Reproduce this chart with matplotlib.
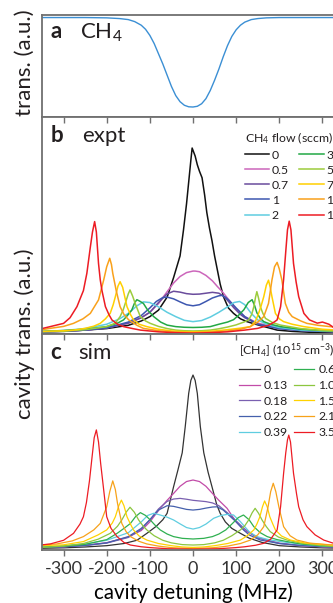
import matplotlib
matplotlib.use('Agg')
import matplotlib.pyplot as plt

plt.rcParams['font.family'] = ['Lato', 'DejaVu Sans']
plt.rcParams['mathtext.fontset'] = 'custom'
plt.rcParams['mathtext.rm'] = 'Lato'
plt.rcParams['mathtext.it'] = 'Lato:italic'
plt.rcParams['text.color'] = '#231f20'

# panel a: CH4 absorption (transmission)
abs_x = [-350, -250, -200, -170, -150, -135, -120, -110, -100, -90, -80, -70, -60, -50, -40, -30, -20, -10, 0, 10, 20, 30, 40, 50, 60, 70, 80, 90, 100, 110, 120, 135, 150, 170, 200, 250, 350]
abs_y = [0.975, 0.975, 0.972, 0.965, 0.955, 0.935, 0.90, 0.86, 0.80, 0.72, 0.62, 0.52, 0.41, 0.30, 0.21, 0.15, 0.115, 0.10, 0.098, 0.105, 0.13, 0.18, 0.26, 0.36, 0.47, 0.59, 0.70, 0.79, 0.855, 0.90, 0.93, 0.955, 0.965, 0.972, 0.975, 0.975, 0.975]

# panel b: experiment, CH4 flow (sccm)
flow_labels = ['0', '0.5', '0.7', '1', '2', '3', '5', '7', '10', '15']

expt_0_x = [-350, -300, -250, -200, -150, -120, -100, -80, -60, -45, -30, -22, -15, -10, -5, -2, 5, 10, 15, 21, 27, 32, 38, 44, 50, 56, 63, 71, 82, 94, 110, 125, 145, 165, 195, 230, 270, 350]
expt_0_y = [0.01, 0.012, 0.018, 0.025, 0.04, 0.06, 0.08, 0.11, 0.17, 0.26, 0.36, 0.48, 0.60, 0.70, 0.80, 0.857, 0.82, 0.78, 0.75, 0.72, 0.64, 0.56, 0.49, 0.43, 0.36, 0.30, 0.23, 0.17, 0.12, 0.095, 0.07, 0.057, 0.045, 0.034, 0.018, 0.012, 0.008, 0.005]
expt_05_x = [-350, -300, -250, -200, -150, -120, -100, -80, -60, -45, -30, -15, 0, 5, 15, 30, 45, 56, 70, 80, 100, 120, 150, 200, 250, 300, 350]
expt_05_y = [0.01, 0.013, 0.018, 0.028, 0.05, 0.075, 0.10, 0.14, 0.195, 0.235, 0.265, 0.283, 0.29, 0.29, 0.287, 0.27, 0.245, 0.22, 0.19, 0.165, 0.115, 0.08, 0.05, 0.028, 0.018, 0.013, 0.01]
expt_07_x = [-350, -300, -250, -200, -150, -120, -100, -80, -60, -45, -30, -15, 0, 15, 30, 45, 60, 70, 80, 95, 110, 120, 150, 200, 250, 300, 350]
expt_07_y = [0.01, 0.013, 0.018, 0.028, 0.05, 0.075, 0.10, 0.145, 0.185, 0.197, 0.193, 0.186, 0.183, 0.184, 0.188, 0.192, 0.188, 0.175, 0.155, 0.12, 0.09, 0.075, 0.045, 0.025, 0.016, 0.012, 0.01]
expt_1_x = [-350, -300, -250, -200, -150, -120, -100, -85, -70, -60, -45, -30, -15, 0, 15, 30, 45, 60, 67, 75, 85, 100, 120, 150, 200, 250, 300, 350]
expt_1_y = [0.01, 0.013, 0.018, 0.028, 0.055, 0.085, 0.12, 0.15, 0.168, 0.17, 0.162, 0.148, 0.135, 0.13, 0.135, 0.15, 0.166, 0.176, 0.178, 0.17, 0.152, 0.12, 0.08, 0.045, 0.025, 0.016, 0.012, 0.01]
expt_2_x = [-350, -300, -250, -200, -170, -150, -130, -115, -100, -80, -60, -40, -20, 0, 20, 40, 60, 80, 95, 108, 120, 135, 150, 170, 200, 250, 300, 350]
expt_2_y = [0.012, 0.016, 0.025, 0.045, 0.07, 0.095, 0.13, 0.148, 0.145, 0.125, 0.10, 0.08, 0.063, 0.057, 0.062, 0.078, 0.10, 0.125, 0.145, 0.15, 0.135, 0.095, 0.065, 0.045, 0.03, 0.018, 0.014, 0.01]
expt_3_x = [-350, -300, -250, -200, -175, -161, -150, -142, -135, -130, -124, -115, -105, -91, -75, -60, -40, -20, 0, 20, 40, 60, 80, 94, 105, 118, 128, 137, 143, 148, 156, 164, 180, 203, 250, 300, 350]
expt_3_y = [0.012, 0.016, 0.022, 0.034, 0.05, 0.065, 0.09, 0.11, 0.145, 0.158, 0.152, 0.141, 0.11, 0.08, 0.055, 0.041, 0.034, 0.031, 0.03, 0.031, 0.034, 0.045, 0.055, 0.066, 0.085, 0.112, 0.145, 0.158, 0.13, 0.098, 0.072, 0.057, 0.045, 0.034, 0.022, 0.016, 0.012]
expt_5_x = [-350, -300, -250, -200, -180, -169, -162, -157, -150, -146, -140, -134, -128, -122, -110, -99, -80, -60, -40, -20, 0, 20, 40, 60, 80, 100, 118, 129, 136, 141, 145, 148, 152, 156, 162, 168, 185, 203, 250, 300, 350]
expt_5_y = [0.01, 0.013, 0.02, 0.034, 0.05, 0.08, 0.11, 0.141, 0.185, 0.203, 0.175, 0.141, 0.11, 0.08, 0.06, 0.049, 0.035, 0.025, 0.018, 0.015, 0.014, 0.015, 0.018, 0.024, 0.032, 0.042, 0.055, 0.065, 0.09, 0.126, 0.17, 0.195, 0.165, 0.126, 0.095, 0.072, 0.052, 0.041, 0.025, 0.016, 0.012]
expt_7_x = [-350, -300, -277, -250, -230, -215, -203, -192, -185, -180, -174, -169, -163, -158, -153, -145, -138, -125, -107, -80, -50, -20, 0, 20, 50, 80, 110, 133, 145, 152, 158, 164, 170, 175, 179, 183, 191, 200, 210, 230, 257, 300, 350]
expt_7_y = [0.012, 0.015, 0.018, 0.026, 0.036, 0.049, 0.07, 0.095, 0.135, 0.172, 0.22, 0.241, 0.215, 0.17, 0.126, 0.09, 0.065, 0.045, 0.034, 0.022, 0.014, 0.011, 0.01, 0.011, 0.014, 0.02, 0.027, 0.034, 0.06, 0.095, 0.13, 0.172, 0.225, 0.248, 0.215, 0.172, 0.095, 0.07, 0.057, 0.045, 0.034, 0.022, 0.016]
expt_10_x = [-350, -331, -300, -277, -255, -238, -219, -207, -200, -193, -189, -186, -178, -169, -160, -149, -130, -115, -80, -40, 0, 40, 80, 110, 133, 150, 164, 175, 183, 189, 195, 200, 206, 214, 222, 230, 250, 264, 290, 318, 350]
expt_10_y = [0.02, 0.026, 0.035, 0.049, 0.07, 0.095, 0.157, 0.249, 0.31, 0.349, 0.32, 0.28, 0.2, 0.126, 0.09, 0.065, 0.04, 0.026, 0.015, 0.009, 0.006, 0.009, 0.014, 0.022, 0.034, 0.055, 0.08, 0.141, 0.249, 0.31, 0.33, 0.3, 0.249, 0.141, 0.1, 0.08, 0.06, 0.049, 0.04, 0.034, 0.028]
expt_15_x = [-350, -331, -300, -285, -269, -254, -246, -238, -233, -228, -224, -219, -215, -211, -203, -195, -188, -175, -161, -140, -122, -80, -40, 0, 40, 80, 120, 150, 175, 188, 195, 203, 210, 215, 219, 223, 227, 233, 239, 245, 257, 270, 288, 300, 315, 326, 350]
expt_15_y = [0.025, 0.034, 0.049, 0.075, 0.126, 0.2, 0.28, 0.40, 0.47, 0.518, 0.47, 0.325, 0.25, 0.2, 0.126, 0.09, 0.065, 0.045, 0.034, 0.025, 0.018, 0.01, 0.006, 0.004, 0.006, 0.01, 0.018, 0.026, 0.04, 0.055, 0.065, 0.126, 0.25, 0.38, 0.48, 0.52, 0.48, 0.325, 0.24, 0.172, 0.095, 0.065, 0.05, 0.055, 0.045, 0.03, 0.02]

# panel c: simulation, [CH4] (1e15 cm^-3)
conc_labels = ['0', '0.13', '0.18', '0.22', '0.39', '0.62', '1.05', '1.55', '2.10', '3.50']

sim_0_x = [-350, -300, -250, -200, -160, -130, -107, -85, -70, -60, -45, -35, -25, -18, -10, -5, 0, 5, 10, 17, 25, 35, 44, 55, 63, 75, 90, 110, 130, 160, 200, 250, 300, 350]
sim_0_y = [0.008, 0.01, 0.014, 0.02, 0.03, 0.045, 0.077, 0.11, 0.14, 0.17, 0.293, 0.37, 0.45, 0.571, 0.725, 0.785, 0.81, 0.785, 0.725, 0.571, 0.45, 0.36, 0.293, 0.21, 0.17, 0.13, 0.1, 0.077, 0.055, 0.035, 0.02, 0.014, 0.01, 0.008]
sim_1_x = [-350, -300, -250, -200, -150, -120, -100, -76, -60, -45, -30, -15, 0, 15, 30, 45, 60, 79, 100, 120, 150, 200, 250, 300, 350]
sim_1_y = [0.012, 0.015, 0.022, 0.034, 0.06, 0.09, 0.13, 0.193, 0.23, 0.262, 0.295, 0.317, 0.324, 0.317, 0.295, 0.262, 0.23, 0.193, 0.13, 0.09, 0.058, 0.032, 0.021, 0.015, 0.012]
sim_2_x = [-350, -300, -250, -200, -150, -120, -100, -80, -60, -45, -30, -15, 0, 15, 30, 45, 60, 80, 100, 120, 150, 200, 250, 300, 350]
sim_2_y = [0.012, 0.015, 0.021, 0.032, 0.058, 0.095, 0.14, 0.19, 0.225, 0.236, 0.239, 0.235, 0.23, 0.227, 0.224, 0.218, 0.205, 0.172, 0.135, 0.097, 0.055, 0.03, 0.02, 0.015, 0.012]
sim_3_x = [-350, -300, -250, -200, -150, -120, -100, -80, -60, -45, -30, -15, 0, 15, 30, 45, 56, 70, 87, 100, 117, 130, 156, 200, 241, 300, 350]
sim_3_y = [0.012, 0.015, 0.021, 0.033, 0.062, 0.10, 0.14, 0.185, 0.205, 0.202, 0.195, 0.188, 0.185, 0.188, 0.194, 0.199, 0.2, 0.185, 0.154, 0.13, 0.093, 0.07, 0.046, 0.03, 0.023, 0.016, 0.012]
sim_4_x = [-350, -300, -250, -200, -150, -120, -105, -91, -76, -60, -45, -30, -15, 0, 15, 30, 48, 65, 80, 94, 110, 130, 148, 175, 203, 250, 300, 350]
sim_4_y = [0.014, 0.02, 0.028, 0.045, 0.08, 0.13, 0.16, 0.17, 0.162, 0.152, 0.139, 0.121, 0.104, 0.097, 0.104, 0.12, 0.147, 0.16, 0.165, 0.162, 0.131, 0.085, 0.062, 0.048, 0.039, 0.027, 0.019, 0.014]
sim_5_x = [-350, -300, -250, -200, -176, -160, -145, -133, -122, -110, -99, -88, -76, -60, -45, -25, 0, 25, 45, 60, 76, 90, 105, 117, 130, 141, 156, 172, 195, 218, 250, 300, 350]
sim_5_y = [0.013, 0.018, 0.026, 0.048, 0.077, 0.1, 0.123, 0.155, 0.173, 0.16, 0.139, 0.115, 0.093, 0.074, 0.062, 0.054, 0.051, 0.054, 0.062, 0.074, 0.093, 0.12, 0.15, 0.162, 0.14, 0.108, 0.08, 0.062, 0.048, 0.039, 0.028, 0.019, 0.014]
sim_6_x = [-350, -300, -254, -220, -192, -175, -165, -155, -146, -136, -126, -116, -107, -90, -70, -50, -25, 0, 25, 50, 70, 90, 110, 120, 129, 137, 144, 152, 160, 170, 179, 198, 218, 250, 300, 350]
sim_6_y = [0.012, 0.018, 0.03, 0.05, 0.077, 0.11, 0.139, 0.175, 0.198, 0.175, 0.139, 0.112, 0.093, 0.066, 0.045, 0.033, 0.025, 0.023, 0.025, 0.033, 0.045, 0.066, 0.093, 0.112, 0.139, 0.172, 0.193, 0.17, 0.139, 0.108, 0.085, 0.06, 0.046, 0.032, 0.02, 0.014]
sim_7_x = [-350, -300, -254, -220, -200, -187, -180, -172, -166, -160, -153, -145, -138, -125, -107, -80, -50, -25, 0, 25, 50, 80, 110, 125, 141, 148, 155, 161, 166, 172, 178, 185, 191, 205, 226, 260, 318, 350]
sim_7_y = [0.02, 0.024, 0.039, 0.07, 0.093, 0.125, 0.154, 0.205, 0.231, 0.205, 0.154, 0.12, 0.093, 0.065, 0.046, 0.03, 0.02, 0.014, 0.012, 0.014, 0.02, 0.03, 0.046, 0.065, 0.093, 0.12, 0.154, 0.2, 0.227, 0.2, 0.154, 0.12, 0.093, 0.065, 0.046, 0.032, 0.023, 0.02]
sim_8_x = [-350, -316, -280, -254, -230, -215, -200, -193, -186, -180, -175, -165, -155, -145, -125, -107, -80, -50, 0, 50, 80, 110, 133, 150, 164, 174, 180, 186, 192, 199, 210, 225, 241, 270, 318, 350]
sim_8_y = [0.024, 0.028, 0.042, 0.062, 0.093, 0.123, 0.2, 0.27, 0.32, 0.28, 0.216, 0.123, 0.085, 0.062, 0.04, 0.028, 0.018, 0.011, 0.006, 0.011, 0.018, 0.03, 0.046, 0.07, 0.108, 0.2, 0.27, 0.309, 0.27, 0.2, 0.108, 0.066, 0.046, 0.032, 0.024, 0.021]
sim_9_x = [-350, -331, -300, -277, -262, -254, -247, -240, -234, -229, -224, -219, -214, -207, -200, -190, -176, -160, -145, -120, -99, -60, 0, 60, 99, 120, 145, 164, 180, 195, 203, 210, 215, 219, 222, 226, 233, 240, 245, 255, 264, 283, 303, 326, 350]
sim_9_y = [0.024, 0.028, 0.045, 0.077, 0.12, 0.154, 0.22, 0.32, 0.43, 0.52, 0.556, 0.5, 0.4, 0.278, 0.154, 0.1, 0.062, 0.035, 0.023, 0.015, 0.011, 0.006, 0.004, 0.006, 0.011, 0.015, 0.022, 0.031, 0.05, 0.093, 0.2, 0.355, 0.45, 0.51, 0.532, 0.5, 0.355, 0.26, 0.2, 0.14, 0.108, 0.07, 0.046, 0.031, 0.024]

expt_colors = ['#111111', '#cc66bb', '#6a4c9c', '#3d57b0', '#5fcde0', '#22a845', '#9ccc3c', '#ffd000', '#f9a11b', '#ed1c24']
sim_colors = ['#333333', '#c24ba8', '#7a60b0', '#4560ac', '#5fcde0', '#2fb050', '#8cc63f', '#ffd200', '#f7a21a', '#ed1c24']

tick_pos = [-300, -200, -100, 0, 100, 200, 300]
tick_labels = ['-300', '-200', '-100', '0', '100', '200', '300']

expt = [(expt_0_x, expt_0_y), (expt_05_x, expt_05_y), (expt_07_x, expt_07_y), (expt_1_x, expt_1_y),
        (expt_2_x, expt_2_y), (expt_3_x, expt_3_y), (expt_5_x, expt_5_y), (expt_7_x, expt_7_y),
        (expt_10_x, expt_10_y), (expt_15_x, expt_15_y)]
sim = [(sim_0_x, sim_0_y), (sim_1_x, sim_1_y), (sim_2_x, sim_2_y), (sim_3_x, sim_3_y), (sim_4_x, sim_4_y),
       (sim_5_x, sim_5_y), (sim_6_x, sim_6_y), (sim_7_x, sim_7_y), (sim_8_x, sim_8_y), (sim_9_x, sim_9_y)]

W, H = 333, 603
fig = plt.figure(figsize=(W / 100, H / 100), dpi=100)
left = 42 / W
width = 302 / W
ax_a = fig.add_axes([left, (H - 117) / H, width, 102 / H])
ax_b = fig.add_axes([left, (H - 334) / H, width, 217 / H])
ax_c = fig.add_axes([left, (H - 550) / H, width, 216 / H])

frame = '#707070'
for ax in (ax_a, ax_b, ax_c):
    ax.set_xlim(-350, 350)
    ax.set_ylim(0, 1)
    ax.set_yticks([])
    for s in ax.spines.values():
        s.set_color(frame)
        s.set_linewidth(1.3)

panel_fs = 16

# a
ax_a.plot(abs_x, abs_y, color='#3b8fd4', lw=1.0)
ax_a.set_xticks([])
ax_a.text(0.027, 0.77, 'a', transform=ax_a.transAxes, fontsize=panel_fs, fontweight='bold')
ax_a.text(0.125, 0.77, 'CH$_4$', transform=ax_a.transAxes, fontsize=panel_fs)
fig.text(25 / W, 1 - 63 / H, 'trans. (a.u.)', rotation=90, fontsize=16, ha='center', va='center')

# b
for (x, y), c, lab in zip(expt, expt_colors, flow_labels):
    ax_b.plot(x, y, color=c, lw=1.1, label=lab)
ax_b.set_xticks(tick_pos)
ax_b.tick_params(axis='x', direction='in', top=True, bottom=False, labelbottom=False, length=4, width=1, color=frame)
ax_b.text(0.027, 0.885, 'b', transform=ax_b.transAxes, fontsize=panel_fs, fontweight='bold')
ax_b.text(0.132, 0.885, 'expt', transform=ax_b.transAxes, fontsize=panel_fs)
ax_b.legend(title='CH$_4$ flow (sccm)', loc='upper left', bbox_to_anchor=(0.672, 0.94), ncol=2,
            frameon=False, fontsize=8.8, title_fontsize=8.8, handlelength=2.0, handletextpad=0.2,
            columnspacing=0.85, labelspacing=0.33, borderpad=0, borderaxespad=0, alignment='left')

# c
for (x, y), c, lab in zip(sim, sim_colors, conc_labels):
    ax_c.plot(x, y, color=c, lw=0.9, label=lab)
ax_c.set_xticks(tick_pos)
ax_c.set_xticklabels(tick_labels)
ax_c.tick_params(axis='x', which='both', top=True, direction='out', length=4, width=1, color=frame,
                 labelsize=13, pad=4, labelcolor='#333333')
for t in ax_c.xaxis.get_major_ticks():
    t.tick2line.set_marker(3)
ax_c.text(0.027, 0.884, 'c', transform=ax_c.transAxes, fontsize=panel_fs, fontweight='bold')
ax_c.text(0.12, 0.884, 'sim', transform=ax_c.transAxes, fontsize=panel_fs)
ax_c.legend(title='[CH$_4$] (10$^{15}$ cm$^{-3}$)', loc='upper left', bbox_to_anchor=(0.652, 0.965), ncol=2,
            frameon=False, fontsize=8.8, title_fontsize=8.8, handlelength=1.7, handletextpad=0.3,
            columnspacing=0.5, labelspacing=0.38, borderpad=0, borderaxespad=0, alignment='left')
ax_c.set_xlabel('cavity detuning (MHz)', fontsize=14.8, labelpad=4)

fig.text(25 / W, 1 - 334 / H, 'cavity trans. (a.u.)', rotation=90, fontsize=16, ha='center', va='center')

fig.savefig('out.png', dpi=100)
